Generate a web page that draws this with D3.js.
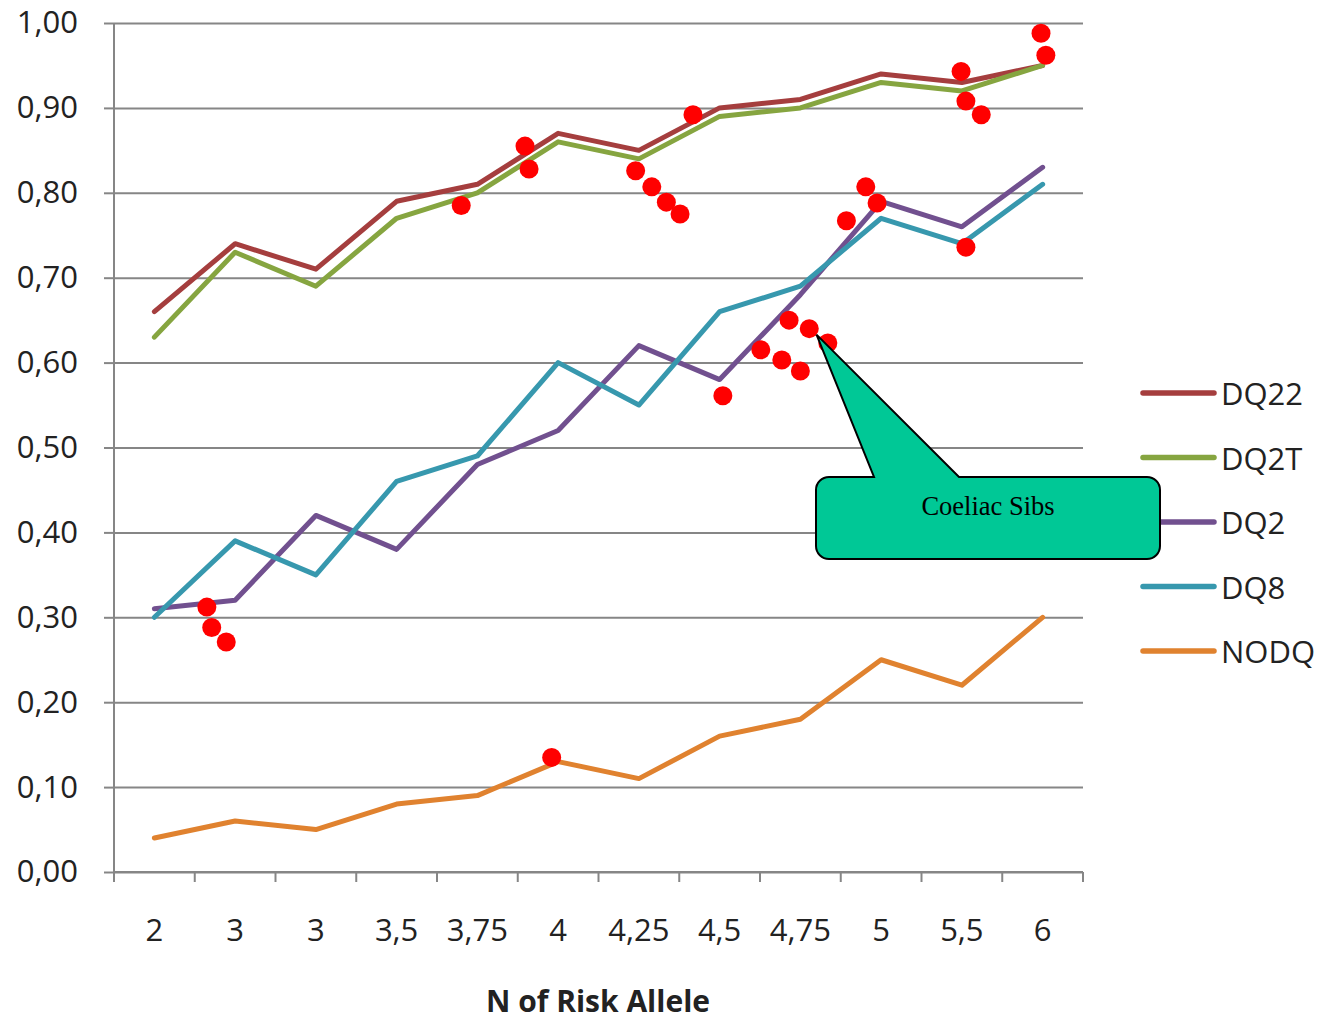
<!DOCTYPE html>
<html>
<head>
<meta charset="utf-8">
<script src="https://cdn.jsdelivr.net/npm/d3@7"></script>
<style>
  html, body { margin: 0; padding: 0; background: #fff; }
  svg { display: block; }
</style>
</head>
<body>
<svg id="chart" width="1326" height="1021"></svg>
<script>
// Category labels along the x axis (number of risk alleles)
const categories = ["2", "3", "3", "3,5", "3,75", "4", "4,25", "4,5", "4,75", "5", "5,5", "6"];

// Series values (probability)
const seriesNames = ["DQ22", "DQ2T", "DQ2", "DQ8", "NODQ"];
const dq22 = [0.66, 0.74, 0.71, 0.79, 0.81, 0.87, 0.85, 0.90, 0.91, 0.94, 0.93, 0.95];
const dq2t = [0.63, 0.73, 0.69, 0.77, 0.80, 0.86, 0.84, 0.89, 0.90, 0.93, 0.92, 0.95];
const dq2  = [0.31, 0.32, 0.42, 0.38, 0.48, 0.52, 0.62, 0.58, 0.68, 0.79, 0.76, 0.83];
const dq8  = [0.30, 0.39, 0.35, 0.46, 0.49, 0.60, 0.55, 0.66, 0.69, 0.77, 0.74, 0.81];
const nodq = [0.04, 0.06, 0.05, 0.08, 0.09, 0.13, 0.11, 0.16, 0.18, 0.25, 0.22, 0.30];
const seriesColors = ["#A53E3E", "#86A540", "#71508F", "#3798AE", "#E0822F"];

// Coeliac sibs: position along the category axis (index units) and value
const sibPos = [0.65, 0.71, 0.89, 3.80, 4.59, 4.64, 4.92, 5.96, 6.16, 6.34, 6.51, 6.67,
                7.04, 7.51, 7.77, 7.86, 8.00, 8.11, 8.34, 8.57, 8.81, 8.95,
                9.99, 10.05, 10.24, 10.05, 10.98, 11.04];
const sibVal = [0.312, 0.288, 0.271, 0.785, 0.855, 0.828, 0.135, 0.826, 0.807, 0.789, 0.775, 0.892,
                0.561, 0.615, 0.603, 0.650, 0.590, 0.640, 0.623, 0.767, 0.807, 0.788,
                0.943, 0.908, 0.892, 0.736, 0.988, 0.962];

// Y axis ticks
const yTicks = [0, 0.1, 0.2, 0.3, 0.4, 0.5, 0.6, 0.7, 0.8, 0.9, 1.0];

const svg = d3.select("#chart");
const plotLeft = 114, plotRight = 1083, plotTop = 23, plotBottom = 872;
const sans = "'Open Sans', sans-serif";
const textColor = "#222";

const xBand = d3.scaleBand().domain(d3.range(categories.length)).range([plotLeft, plotRight]).padding(0);
const xPos = d3.scaleLinear().domain([-0.5, categories.length - 0.5]).range([plotLeft, plotRight]);
const y = d3.scaleLinear().domain([0, 1]).range([plotBottom, plotTop]);

const gridColor = "#868686";
const fmt = v => d3.format(".2f")(v).replace(".", ",");

// Horizontal gridlines with short left ticks
const yAxis = d3.axisLeft(y).tickValues(yTicks).tickSize(-(plotRight - plotLeft)).tickFormat(fmt).tickPadding(36);
const gy = svg.append("g").attr("transform", `translate(${plotLeft},0)`).call(yAxis);
gy.select(".domain").remove();
gy.selectAll(".tick line").attr("stroke", gridColor).attr("stroke-width", 2);
gy.selectAll(".tick").append("line")
  .attr("x1", -10).attr("x2", 0).attr("stroke", gridColor).attr("stroke-width", 2);
gy.selectAll(".tick text")
  .attr("font-family", sans).attr("font-size", 31).attr("fill", textColor);

// Vertical axis line
svg.append("line").attr("x1", plotLeft).attr("x2", plotLeft).attr("y1", plotTop).attr("y2", plotBottom + 10)
  .attr("stroke", gridColor).attr("stroke-width", 2);

// X axis: ticks on category boundaries, labels centered in bands
const gx = svg.append("g").attr("transform", `translate(0,${plotBottom})`);
gx.append("line").attr("x1", plotLeft).attr("x2", plotRight).attr("stroke", gridColor).attr("stroke-width", 2);
const boundaries = d3.range(categories.length + 1);
gx.selectAll(".bt").data(boundaries).join("line")
  .attr("x1", d => xPos(d - 0.5)).attr("x2", d => xPos(d - 0.5))
  .attr("y1", 0).attr("y2", 10).attr("stroke", gridColor).attr("stroke-width", 2);
gx.selectAll(".lbl").data(categories).join("text")
  .attr("x", (d, i) => xBand(i) + xBand.bandwidth() / 2)
  .attr("y", 69)
  .attr("text-anchor", "middle")
  .attr("font-family", sans).attr("font-size", 31).attr("fill", textColor)
  .text(d => d);

// Axis title
svg.append("text").attr("x", 598).attr("y", 1012).attr("text-anchor", "middle")
  .attr("font-family", sans).attr("font-weight", "bold")
  .attr("font-size", 30).attr("fill", textColor).text("N of Risk Allele");

// Series lines
const seriesData = [dq22, dq2t, dq2, dq8, nodq];
const line = d3.line().x((d, i) => xBand(i) + xBand.bandwidth() / 2).y(d => y(d));
seriesData.forEach((vals, k) => {
  svg.append("path").datum(vals).attr("d", line)
    .attr("fill", "none").attr("stroke", seriesColors[k]).attr("stroke-width", 5)
    .attr("stroke-linejoin", "round").attr("stroke-linecap", "round");
});

// Coeliac sibs dots
svg.append("g").selectAll("circle").data(sibPos).join("circle")
  .attr("cx", d => xPos(d)).attr("cy", (d, i) => y(sibVal[i])).attr("r", 9.5)
  .attr("fill", "#FF0000");

// Legend
const lg = svg.append("g");
seriesNames.forEach((name, k) => {
  const ly = 393 + k * 64.5;
  lg.append("line").attr("x1", 1143).attr("x2", 1214).attr("y1", ly).attr("y2", ly)
    .attr("stroke", seriesColors[k]).attr("stroke-width", 5.5).attr("stroke-linecap", "round");
  lg.append("text").attr("x", 1221).attr("y", ly + 12)
    .attr("font-family", sans).attr("font-size", 31).attr("fill", textColor)
    .text(name);
});

// Callout box pointing at the sibs cluster
const bx0 = 816, bx1 = 1160, by0 = 477, by1 = 559, rr = 13;
const tipX = xPos(8.2), tipY = y(0.633);
const p = d3.path();
p.moveTo(bx0 + rr, by0);
p.lineTo(874, by0);
p.lineTo(tipX, tipY);
p.lineTo(959, by0);
p.lineTo(bx1 - rr, by0);
p.arcTo(bx1, by0, bx1, by0 + rr, rr);
p.lineTo(bx1, by1 - rr);
p.arcTo(bx1, by1, bx1 - rr, by1, rr);
p.lineTo(bx0 + rr, by1);
p.arcTo(bx0, by1, bx0, by1 - rr, rr);
p.lineTo(bx0, by0 + rr);
p.arcTo(bx0, by0, bx0 + rr, by0, rr);
p.closePath();
svg.append("path").attr("d", p.toString())
  .attr("fill", "#00C896").attr("stroke", "#000").attr("stroke-width", 2).attr("stroke-linejoin", "miter");
svg.append("text").attr("x", 988).attr("y", 515).attr("text-anchor", "middle")
  .attr("font-family", "'Liberation Serif', 'Times New Roman', serif").attr("font-size", 26.5)
  .attr("fill", "#000").text("Coeliac Sibs");
</script>
</body>
</html>
